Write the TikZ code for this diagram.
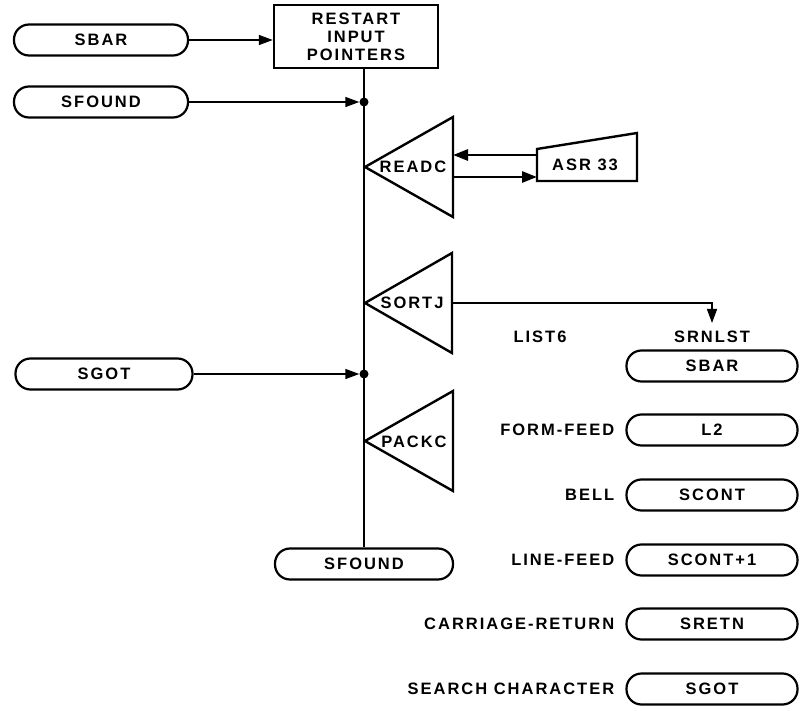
\documentclass[tikz,border=0pt]{standalone}
\usepackage{fontspec}
\setmainfont{Liberation Sans}[LetterSpace=12]
\usetikzlibrary{arrows.meta}
\begin{document}
\begin{tikzpicture}[x=1pt,y=-1pt,
  txt/.style={font=\bfseries\fontsize{16.5}{18}\selectfont, inner sep=0pt},
  term/.style={txt, draw, line width=2.2pt, rounded corners=15pt, minimum height=31pt, minimum width=174pt},
  shp/.style={draw, line width=2.4pt, line join=miter},
  trunkline/.style={line width=1.5pt},
  conn/.style={line width=1.5pt, -{Triangle[length=14pt,width=10pt]}},
  dbl/.style={line width=2.8pt, -{Triangle[length=15pt,width=11pt]}},
  dot/.style={circle, fill=black, inner sep=0pt, minimum size=9pt}
]
\useasboundingbox (0,0) rectangle (803,711);

% left terminals
\node[term] (sbar) at (101,40) {SBAR};
\node[term] (sfoundA) at (101,102) {SFOUND};
\node[term, minimum width=177pt] (sgot) at (104,374) {SGOT};
\node[term, minimum width=178pt] (sfoundB) at (364,564) {SFOUND};

% restart box
\node[txt, draw, line width=2.4pt, minimum width=164pt, minimum height=63pt, align=center] (restart) at (356,36.5) {RESTART\\INPUT\\POINTERS};

% trunk
\coordinate (ttop) at (restart.south -| sfoundB.north);
\draw[trunkline] (ttop) -- (sfoundB.north);
\node[dot] (j1) at (sfoundA.east -| sfoundB.north) {};
\node[dot] (j2) at (sgot.east -| sfoundB.north) {};

\draw[conn] (sbar.east) -- (sbar.east -| restart.west);
\draw[conn] (sfoundA.east) -- (j1.west);
\draw[conn] (sgot.east) -- (j2.west);

% READC triangle
\coordinate (rA) at (365,167);
\coordinate (rT) at (453,117);
\coordinate (rB) at (453,217);
\draw[shp] (rA) -- (rT) -- (rB) -- cycle;
\node[txt] (readc) at (413,167) {READC};

% ASR 33
\coordinate (aTL) at (537,149);
\coordinate (aTR) at (637,133);
\coordinate (aBR) at (637,181);
\coordinate (aBL) at (537,181);
\draw[shp] (aTL) -- (aTR) -- (aBR) -- (aBL) -- cycle;
\node[txt] (asr) at (585,165) {ASR 33};
\coordinate (asrIn) at (537,155);
\coordinate (asrOut) at (537,177);
\draw[dbl] (asrIn) -- (asrIn -| rT);
\draw[dbl] (asrOut -| rT) -- (asrOut);

% SORTJ triangle
\coordinate (sA) at (365,303);
\coordinate (sT) at (452,253);
\coordinate (sB) at (452,353);
\draw[shp] (sA) -- (sT) -- (sB) -- cycle;
\node[txt] (sortj) at (412,303) {SORTJ};

% PACKC triangle
\coordinate (pA) at (365,441);
\coordinate (pT) at (453,391);
\coordinate (pB) at (453,491);
\draw[shp] (pA) -- (pT) -- (pB) -- cycle;
\node[txt] (packc) at (414,442) {PACKC};

% list
\node[txt] (list6) at (540,337) {LIST6};
\node[txt] (srnlst) at (712,337) {SRNLST};
\coordinate (srtip) at (712,323);
\coordinate (sR) at (452,303);
\draw[conn] (sR) -| (srtip);

\node[term, minimum width=171pt] (r1) at (712,366) {SBAR};
\node[term, minimum width=171pt] (r2) at (712,430) {L2};
\node[term, minimum width=171pt] (r3) at (712,495) {SCONT};
\node[term, minimum width=171pt] (r4) at (712,560) {SCONT+1};
\node[term, minimum width=171pt] (r5) at (712,624) {SRETN};
\node[term, minimum width=171pt] (r6) at (712,689) {SGOT};

\node[txt, anchor=east] (l2) at ([xshift=-11pt]r2.west) {FORM-FEED};
\node[txt, anchor=east] (l3) at ([xshift=-11pt]r3.west) {BELL};
\node[txt, anchor=east] (l4) at ([xshift=-11pt]r4.west) {LINE-FEED};
\node[txt, anchor=east] (l5) at ([xshift=-11pt]r5.west) {CARRIAGE-RETURN};
\node[txt, anchor=east] (l6) at ([xshift=-11pt]r6.west) {SEARCH CHARACTER};
\end{tikzpicture}
\end{document}
